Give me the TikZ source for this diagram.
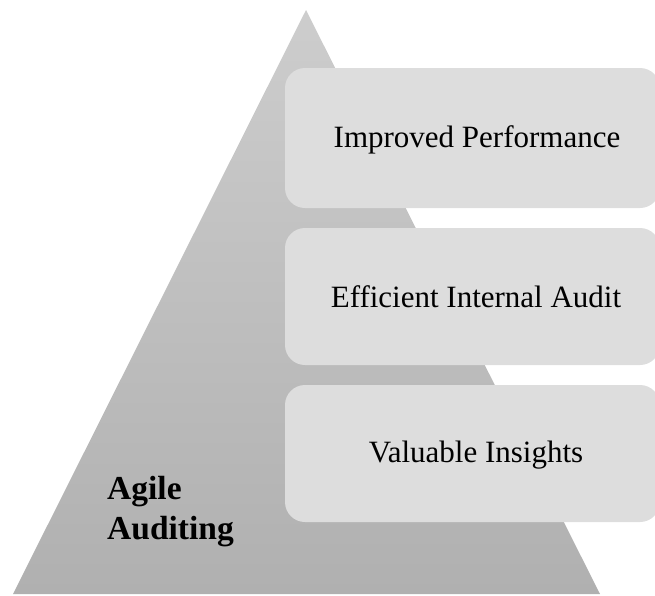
\documentclass[tikz,border=0pt]{standalone}
\usepackage{fontspec}
\setmainfont{Liberation Serif}
\begin{document}
\begin{tikzpicture}[x=1pt,y=-1pt,
  tier/.style={draw=none, fill=tierfill, rounded corners=20pt},
  tierlabel/.style={font=\fontsize{31}{36}\selectfont, text=black},
  baselabel/.style={font=\fontsize{33.5}{40}\selectfont\bfseries, text=black, align=left, anchor=north west}]
  \definecolor{tierfill}{HTML}{DDDDDD}
  \definecolor{pyrtop}{HTML}{CDCDCD}
  \definecolor{pyrbottom}{HTML}{B0B0B0}
  \useasboundingbox (0,0) rectangle (655,595);
  % pyramid with vertical shading
  \shade[top color=pyrtop, bottom color=pyrbottom]
    (13,594) -- (306,10) -- (600,594) -- cycle;
  % tiers
  \fill[tier] (285,68) rectangle (660,208);
  \fill[tier] (285,228) rectangle (660,365);
  \fill[tier] (285,385) rectangle (660,522);
  \node[tierlabel] (t1) at (477,140) {Improved Performance};
  \node[tierlabel] (t2) at (476,297) {Efficient Internal Audit};
  \node[tierlabel] (t3) at (476,455) {Valuable Insights};
  \node[baselabel, inner sep=0pt] (base) at (107,476) {Agile\\Auditing};
\end{tikzpicture}
\end{document}
